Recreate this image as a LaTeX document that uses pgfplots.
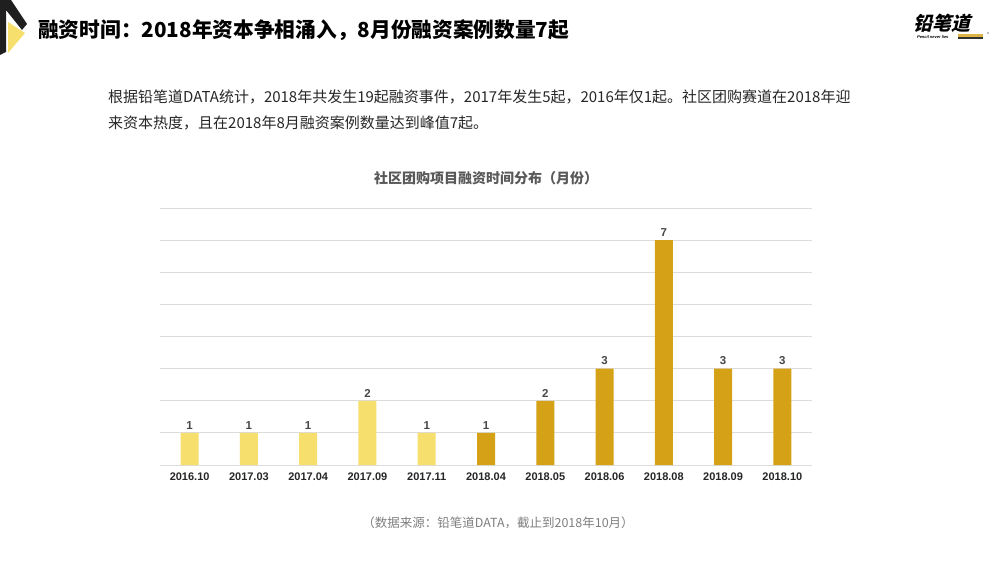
\documentclass[border=0pt]{standalone}
\usepackage{fontspec}
\setmainfont{Liberation Sans}
\newfontfamily\cjk{Noto Sans CJK SC}
\usepackage{pgfplots}
\pgfplotsset{compat=1.18}
\definecolor{lightY}{HTML}{F6DF6C}
\definecolor{darkY}{HTML}{D4A117}
\definecolor{gridc}{HTML}{DCDCDC}
\definecolor{txt}{HTML}{262626}
\begin{document}
\begin{tikzpicture}[x=1pt,y=1pt]
\fill[white] (0,0) rectangle (1000,563);
% corner decoration
\fill[black!88] (0,563) -- (11,563) -- (27,539) -- (22,533) -- (6,553) -- (6,511) -- (0,508) -- cycle;
\fill[lightY] (8,541) -- (25,530) -- (8,510) -- cycle;
% title
\node[anchor=west, inner sep=0, text=black] at (38,533) {\cjk\bfseries\fontsize{20.7}{24}\selectfont 融资时间：2018年资本争相涌入，8月份融资案例数量7起};
% logo
\node[anchor=center, inner sep=0, xslant=0.25, transform shape] at (944,540) {\cjk\bfseries\fontsize{19}{22}\selectfont 铅笔道};
\node[anchor=west, inner sep=0, xslant=0.25, transform shape] at (917,526) {\fontsize{4}{5}\selectfont\bfseries Pencil never lies};
\fill[darkY!80] (958,526.2) rectangle (983,528.6);
\fill[black!80] (958,524.2) rectangle (983,525.6);
\fill[black] (988,530) circle (0.6);
% paragraph
\node[anchor=west, inner sep=0, text=txt] at (108,466) {\cjk\fontsize{15}{18}\selectfont 根据铅笔道DATA统计，2018年共发生19起融资事件，2017年发生5起，2016年仅1起。社区团购赛道在2018年迎};
\node[anchor=west, inner sep=0, text=txt] at (108,440) {\cjk\fontsize{15}{18}\selectfont 来资本热度，且在2018年8月融资案例数量达到峰值7起。};
% chart title
\node[inner sep=0, text=black!65] at (486,385) {\cjk\bfseries\fontsize{14}{17}\selectfont 社区团购项目融资时间分布（月份）};
% source
\node[inner sep=0, text=black!50] at (498,40) {\cjk\fontsize{12.5}{15}\selectfont （数据来源：铅笔道DATA，截止到2018年10月）};
\begin{axis}[
  at={(160pt,98pt)}, anchor=south west,
  scale only axis, width=652pt, height=257pt,
  xmin=-0.5, xmax=10.5, ymin=0, ymax=8,
  ytick={0,...,8}, yticklabels={}, ymajorgrids,
  grid style={draw=gridc, line width=0.9pt},
  axis line style={draw=none},
  major tick length=0pt,
  xtick={0,...,10},
  xticklabels={2016.10,2017.03,2017.04,2017.09,2017.11,2018.04,2018.05,2018.06,2018.08,2018.09,2018.10},
  xticklabel style={font=\fontsize{11}{13}\selectfont\bfseries, text=txt, yshift=-4pt},
  ybar, bar width=18pt,
  nodes near coords,
  nodes near coords style={font=\fontsize{11.5}{13}\selectfont\bfseries, text=black!72, /pgf/number format/assume math mode=true},
  clip=false,
]
\addplot[fill=lightY, draw=none, bar shift=0pt] coordinates {(0,1) (1,1) (2,1) (3,2) (4,1)};
\addplot[fill=darkY, draw=none, bar shift=0pt] coordinates {(5,1) (6,2) (7,3) (8,7) (9,3) (10,3)};
\end{axis}
\end{tikzpicture}
\end{document}
